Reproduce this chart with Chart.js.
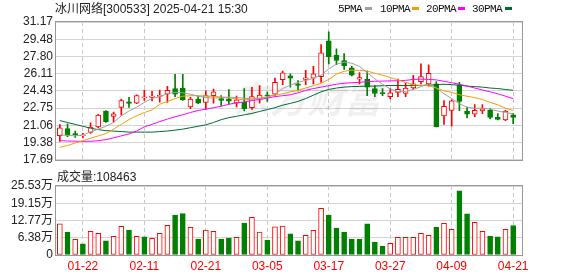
<!DOCTYPE html>
<html>
<head>
<meta charset="utf-8">
<script src="https://cdn.jsdelivr.net/npm/chart.js@4.4.1/dist/chart.umd.min.js"></script>
<style>
body{margin:0;background:#fff;width:578px;height:276px;overflow:hidden;position:relative;
  font-family:"Liberation Sans","Noto Sans CJK SC",sans-serif;font-size:12px;color:#222}
canvas{position:absolute;left:0}
.t{position:absolute;white-space:nowrap;line-height:14px}
.lg{position:absolute;top:2px;white-space:nowrap;line-height:14px;font-family:"Liberation Mono",monospace;font-size:11px;letter-spacing:-0.6px;color:#111}
.k{position:absolute;top:7px;width:7px;height:3px}
</style>
</head>
<body>
<canvas id="kline" width="578" height="170" style="top:0"></canvas>
<canvas id="vol" width="578" height="106" style="top:170px"></canvas>

<div class="t" style="left:55px;top:2px">冰川网络[300533] 2025-04-21 15:30</div>
<span class="lg" style="left:338px">5PMA</span><i class="k" style="left:365px;background:#a0a0a0"></i>
<span class="lg" style="left:380px">10PMA</span><i class="k" style="left:412px;background:#f5a000"></i>
<span class="lg" style="left:426px">20PMA</span><i class="k" style="left:458px;background:#ff00ff"></i>
<span class="lg" style="left:472px">30PMA</span><i class="k" style="left:505px;background:#006b35"></i>
<div class="t" id="volTitle" style="left:57px;top:170px"></div>

<script>
// 日期 (交易日)
const dates = ['01-17','01-20','01-21','01-22','01-23','01-24','01-27','02-05','02-06','02-07',
  '02-10','02-11','02-12','02-13','02-14','02-17','02-18','02-19','02-20','02-21',
  '02-24','02-25','02-26','02-27','02-28','03-03','03-04','03-05','03-06','03-07',
  '03-10','03-11','03-12','03-13','03-14','03-17','03-18','03-19','03-20','03-21',
  '03-24','03-25','03-26','03-27','03-28','03-31','04-01','04-02','04-03','04-07',
  '04-08','04-09','04-10','04-11','04-14','04-15','04-16','04-17','04-18','04-21'];

const openP = [20.06,20.75,20.25,20.05,20.38,20.90,22.46,21.93,22.81,23.37,
  23.24,23.74,23.80,23.90,24.12,24.65,24.71,22.87,23.62,23.30,
  23.96,23.68,23.65,23.24,23.30,22.78,23.62,24.05,24.12,25.52,
  25.90,25.11,25.55,25.68,25.83,29.32,27.93,27.40,26.68,25.58,
  25.58,24.65,24.27,23.87,24.27,24.18,24.71,25.33,25.11,25.11,
  21.99,22.53,25.02,22.46,22.15,22.46,22.53,21.84,21.59,22.09];
const closeP = [20.81,20.10,20.15,20.10,20.90,22.06,21.43,22.18,23.49,23.21,
  23.96,23.84,23.93,24.00,24.49,24.12,23.56,23.62,23.24,23.96,
  24.34,23.49,23.42,23.56,22.68,23.87,24.02,23.96,25.27,26.20,
  25.68,24.96,25.70,26.11,28.15,27.77,27.40,26.90,25.96,25.74,
  24.80,24.18,24.15,24.24,24.58,24.71,25.11,25.83,26.14,20.91,
  22.93,23.46,23.40,22.15,22.53,22.68,21.84,21.65,22.46,21.84];
const highP = [21.13,21.20,20.50,20.28,21.30,22.15,22.50,22.37,23.62,23.80,
  24.05,24.50,24.40,24.50,24.87,26.05,26.05,23.80,23.93,24.43,
  24.62,23.96,24.55,23.93,24.65,24.77,24.96,24.34,25.68,26.37,
  26.11,25.43,26.43,26.83,28.95,30.20,28.55,28.08,26.83,26.21,
  26.37,24.96,24.65,24.65,25.58,25.20,25.96,27.08,26.98,25.33,
  23.49,23.56,25.27,22.84,23.09,23.09,22.71,22.21,22.53,22.21];
const lowP = [19.50,19.96,19.88,19.82,20.28,20.81,21.35,21.37,22.06,22.81,
  23.18,23.49,23.46,23.33,23.30,23.87,23.49,22.68,23.18,22.62,
  23.24,22.99,23.15,22.87,22.46,22.62,23.24,23.40,23.93,25.05,
  24.80,24.43,25.05,25.11,25.27,27.08,27.00,26.52,25.90,25.11,
  23.96,23.87,23.96,23.65,23.87,23.87,24.58,25.11,24.90,20.91,
  21.15,20.99,22.50,21.78,21.90,22.21,21.68,21.59,21.53,21.22];

// 均线
const ma5 = [20.12,20.08,20.03,20.12,20.40,20.69,20.97,21.34,22.00,22.46,
  22.84,23.31,23.68,23.87,24.15,24.29,24.24,24.10,23.91,23.77,
  23.73,23.77,23.82,23.77,23.73,23.63,23.68,23.82,24.10,24.66,
  24.99,25.27,25.46,25.65,25.97,26.58,27.05,27.24,27.14,26.82,
  26.21,25.60,25.08,24.62,24.34,24.38,24.57,24.85,25.13,24.71,
  24.15,23.68,23.17,22.84,22.74,22.74,22.65,22.46,22.32,22.18];
const ma10 = [18.91,19.09,19.33,19.56,19.80,20.03,20.26,20.69,21.15,21.62,
  22.00,22.32,22.56,23.12,23.40,23.68,23.91,23.96,23.96,23.93,
  23.89,23.84,23.77,23.63,23.56,23.63,23.73,23.87,24.01,24.15,
  24.34,24.48,24.71,24.94,25.18,25.55,26.07,26.35,26.46,26.44,
  26.37,26.16,25.97,25.74,25.51,25.27,25.04,24.96,24.94,24.71,
  24.43,24.29,24.05,23.91,23.77,23.59,23.31,23.07,22.74,22.51];
const ma20 = [19.56,19.53,19.51,19.50,19.50,19.56,19.66,19.84,20.03,20.22,
  20.50,20.92,21.15,21.43,21.67,21.90,22.09,22.32,22.51,22.65,
  22.79,22.93,23.12,23.26,23.35,23.49,23.59,23.73,23.87,23.96,
  24.05,24.24,24.48,24.66,24.80,24.94,25.08,25.18,25.23,25.27,
  25.34,25.37,25.39,25.41,25.43,25.46,25.55,25.58,25.55,25.51,
  25.37,25.23,25.08,24.90,24.71,24.52,24.34,24.15,23.91,23.68];
const ma30 = [21.53,21.34,21.15,20.97,20.78,20.64,20.54,20.50,20.45,20.40,
  20.40,20.40,20.40,20.45,20.50,20.59,20.69,20.83,20.97,21.11,
  21.34,21.62,21.81,21.95,22.09,22.23,22.42,22.60,22.79,23.03,
  23.21,23.40,23.68,24.01,24.34,24.57,24.71,24.80,24.85,24.87,
  24.90,24.90,24.94,24.96,24.96,24.96,24.96,24.96,24.99,25.04,
  25.08,25.04,24.99,24.90,24.85,24.80,24.71,24.66,24.57,24.49];

// 成交量
const volumes = [115000,85000,58000,41000,88000,80000,52000,69000,106000,92500,
  69000,67000,62000,80000,110000,148000,153000,102000,59000,92500,
  88000,59000,63000,65000,118000,139000,85000,55500,104000,107000,
  78000,52000,73000,91000,173000,148000,100000,85000,59000,59000,
  115000,48000,33000,43000,65000,65000,65000,80000,73000,102000,
  117000,95000,237000,152000,121000,88000,70000,67000,95000,108463];
// 1 = 收盘高于前一日
const volUp = [1,0,1,0,1,1,0,1,1,0, 1,0,1,1,1,0,0,1,0,1,
  1,0,0,1,0,1,1,0,1,1, 0,0,1,1,1,0,0,0,0,0,
  0,0,0,1,1,1,1,1,1,0, 1,1,0,0,1,1,0,0,1,0];

const priceTicks = [17.69,19.38,21.06,22.75,24.43,26.11,27.80,29.48,31.17];
const priceLabels = ['17.69','19.38','21.06','22.75','24.43','26.11','27.80','29.48','31.17'];
const volTicks = [0,63825,127650,191475,255300];
const volLabels = ['0','6.38万','12.77万','19.15万','25.53万'];
const labelAt = [3,11,19,27,35,43,51,59];

const RED = '#ff0000', GREEN = '#008000';

Chart.defaults.font.family = '"Liberation Sans","Noto Sans CJK SC",sans-serif';
Chart.defaults.font.size = 12;
Chart.defaults.color = '#222';

document.getElementById('volTitle').textContent = '成交量:' + volumes[volumes.length - 1];

const idx = dates.map((d, i) => i);
const up = idx.map(i => closeP[i] >= openP[i]);

const frame = {
  id: 'frame',
  afterDraw(chart) {
    const a = chart.chartArea, c = chart.ctx;
    c.save();
    c.strokeStyle = '#999';
    c.lineWidth = 1;
    c.strokeRect(Math.round(a.left) - 0.5, Math.round(a.top) - 0.5, Math.round(a.right - a.left) + 1, Math.round(a.bottom - a.top) + 1);
    c.restore();
  }
};

const watermark = {
  id: 'watermark',
  beforeDatasetsDraw(chart) {
    const c = chart.ctx;
    c.save();
    c.font = 'italic bold 37px "Noto Sans CJK SC"';
    c.fillStyle = 'rgba(0,0,0,0.06)';
    c.fillText('东方财富', 233, 113);
    c.restore();
  }
};

function xAxis(showLabels) {
  return {
    type: 'linear', min: -0.5, max: 60.15, offset: false,
    afterBuildTicks: s => { s.ticks = labelAt.map(v => ({value: v})); },
    grid: {color: '#c8c8c8', offset: false, drawTicks: false},
    border: {display: false, dash: [4, 3]},
    ticks: {display: showLabels, color: RED, padding: 4, autoSkip: false, maxRotation: 0,
      callback: v => dates[v]},
    afterFit: s => { s.height = showLabels ? 21 : 0; }
  };
}

function line(label, values, color) {
  return {type: 'line', label: label, data: idx.map(i => ({x: i, y: values[i]})),
    borderColor: color, borderWidth: 1, pointRadius: 0, tension: 0, order: 0};
}

new Chart(document.getElementById('kline'), {
  type: 'bar',
  data: {
    datasets: [
      line('5PMA', ma5, '#a0a0a0'),
      line('10PMA', ma10, '#f5a000'),
      line('20PMA', ma20, '#ff00ff'),
      line('30PMA', ma30, '#006b35'),
      {
        type: 'bar', data: idx.map(i => ({x: i, y: [openP[i], closeP[i]]})),
        backgroundColor: idx.map(i => up[i] ? '#fff' : GREEN),
        borderColor: idx.map(i => up[i] ? RED : GREEN),
        borderWidth: 1, borderSkipped: false, barThickness: 5, grouped: false, order: 1
      },
      {
        type: 'bar', data: idx.map(i => ({x: i, y: [lowP[i], highP[i]]})),
        backgroundColor: idx.map(i => up[i] ? RED : GREEN),
        barThickness: 1, grouped: false, order: 2
      }
    ]
  },
  options: {
    responsive: false, animation: false,
    layout: {padding: {left: 0, right: 56, top: 22, bottom: 4}},
    plugins: {legend: {display: false}, tooltip: {enabled: false}},
    scales: {
      x: xAxis(false),
      y: {
        min: 17.69, max: 31.17,
        afterBuildTicks: s => { s.ticks = priceTicks.map(v => ({value: v})); },
        ticks: {autoSkip: false, padding: 3, color: '#222', callback: (v, i) => priceLabels[i]},
        grid: {color: '#d4d4d4', drawTicks: false},
        border: {display: false},
        afterFit: s => { s.width = 56; }
      }
    }
  },
  plugins: [watermark, frame]
});

new Chart(document.getElementById('vol'), {
  type: 'bar',
  data: {
    datasets: [{
      data: idx.map(i => ({x: i, y: volumes[i]})),
      backgroundColor: idx.map(i => volUp[i] ? '#fff' : GREEN),
      borderColor: idx.map(i => volUp[i] ? RED : GREEN),
      borderWidth: 1, borderSkipped: false, barThickness: 5, grouped: false
    }]
  },
  options: {
    responsive: false, animation: false,
    layout: {padding: {left: 0, right: 56, top: 16, bottom: 0}},
    plugins: {legend: {display: false}, tooltip: {enabled: false}},
    scales: {
      x: xAxis(true),
      y: {
        min: 0, max: 255300,
        afterBuildTicks: s => { s.ticks = volTicks.map(v => ({value: v})); },
        ticks: {autoSkip: false, padding: 3, color: '#222', callback: (v, i) => volLabels[i]},
        grid: {color: '#d4d4d4', drawTicks: false},
        border: {display: false},
        afterFit: s => { s.width = 56; }
      }
    }
  },
  plugins: [frame]
});
</script>
</body>
</html>
